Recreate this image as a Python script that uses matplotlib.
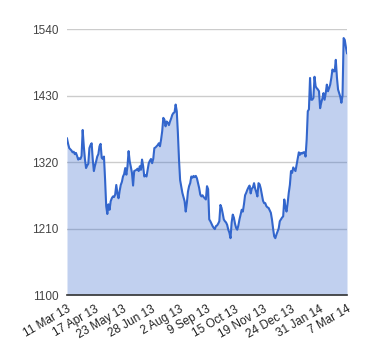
import numpy as np
import matplotlib
matplotlib.use("Agg")
import matplotlib.pyplot as plt

plt.rcParams["font.family"] = ["Liberation Sans", "DejaVu Sans"]

# daily closing values (251 trading days)
values = [
    1359, 1350, 1343, 1341, 1339, 1336, 1337, 1333, 1335, 1330,
    1324, 1326, 1325, 1330, 1373, 1346, 1325, 1310, 1314, 1317,
    1343, 1348, 1351, 1324, 1305, 1314, 1321, 1329, 1333, 1346,
    1350, 1327, 1325, 1329, 1291, 1247, 1234, 1250, 1241, 1255,
    1260, 1263, 1262, 1266, 1282, 1268, 1260, 1272, 1282, 1287,
    1296, 1300, 1310, 1299, 1313, 1338, 1321, 1312, 1302, 1281,
    1305, 1306, 1307, 1309, 1305, 1313, 1307, 1324, 1313, 1296,
    1298, 1296, 1307, 1318, 1322, 1325, 1318, 1325, 1343, 1344,
    1346, 1348, 1351, 1346, 1357, 1371, 1393, 1390, 1379, 1387,
    1385, 1381, 1387, 1392, 1398, 1401, 1402, 1415, 1404, 1368,
    1324, 1290, 1280, 1269, 1262, 1255, 1238, 1252, 1271, 1280,
    1285, 1296, 1294, 1297, 1295, 1297, 1293, 1285, 1277, 1266,
    1263, 1265, 1262, 1260, 1258, 1280, 1275, 1225, 1222, 1218,
    1214, 1211, 1209, 1214, 1215, 1218, 1222, 1249, 1244, 1235,
    1225, 1222, 1220, 1216, 1208, 1203, 1194, 1220, 1233, 1228,
    1218, 1211, 1208, 1215, 1225, 1233, 1241, 1238, 1250, 1265,
    1269, 1274, 1278, 1281, 1268, 1276, 1278, 1285, 1276, 1270,
    1263, 1285, 1283, 1276, 1266, 1256, 1252, 1252, 1247, 1245,
    1244, 1240, 1236, 1225, 1210, 1197, 1194, 1200, 1205, 1210,
    1222, 1225, 1228, 1230, 1258, 1245, 1238, 1252, 1269, 1282,
    1305, 1302, 1311, 1308, 1305, 1315, 1324, 1336, 1332, 1335,
    1334, 1336, 1336, 1329, 1357, 1404, 1407, 1459, 1423, 1423,
    1426, 1461, 1445, 1442, 1440, 1437, 1409, 1418, 1425, 1434,
    1423, 1434, 1448, 1437, 1442, 1448, 1459, 1473, 1470, 1470,
    1489, 1460, 1440, 1434, 1428, 1418, 1430, 1525, 1522, 1510,
    1500,
]

date_labels = ["11 Mar 13", "17 Apr 13", "23 May 13", "28 Jun 13", "2 Aug 13",
               "9 Sep 13", "15 Oct 13", "19 Nov 13", "24 Dec 13", "31 Jan 14",
               "7 Mar 14"]
label_step = 25
y_ticks = [1100, 1210, 1320, 1430, 1540]

x = np.arange(len(values))
y = np.array(values)

fig = plt.figure(figsize=(3.8, 3.6), dpi=100)
ax = fig.add_axes([67 / 380, 65 / 360, 280 / 380, 266 / 360])

ax.fill_between(x, y, 1100, color="#3366cc", alpha=0.3, linewidth=0)
ax.plot(x, y, color="#3366cc", linewidth=1.5)

ax.set_xlim(0, len(values) - 1)
ax.set_ylim(y_ticks[0], y_ticks[-1])
ax.set_yticks(y_ticks)
ax.set_yticklabels([str(v) for v in y_ticks], fontsize=8.5, color="#444444")
ax.set_xticks(x[::label_step])
ax.set_xticklabels(date_labels, rotation=30, ha="right", rotation_mode="anchor",
                   fontsize=8.5, color="#222222")

ax.grid(axis="y", color="#cccccc", linewidth=1)
ax.set_axisbelow(True)
ax.tick_params(length=0, pad=6)
for s in ["top", "right", "left"]:
    ax.spines[s].set_visible(False)
ax.spines["bottom"].set_color("#333333")
ax.spines["bottom"].set_linewidth(1.2)

fig.savefig("out.png", dpi=100)
